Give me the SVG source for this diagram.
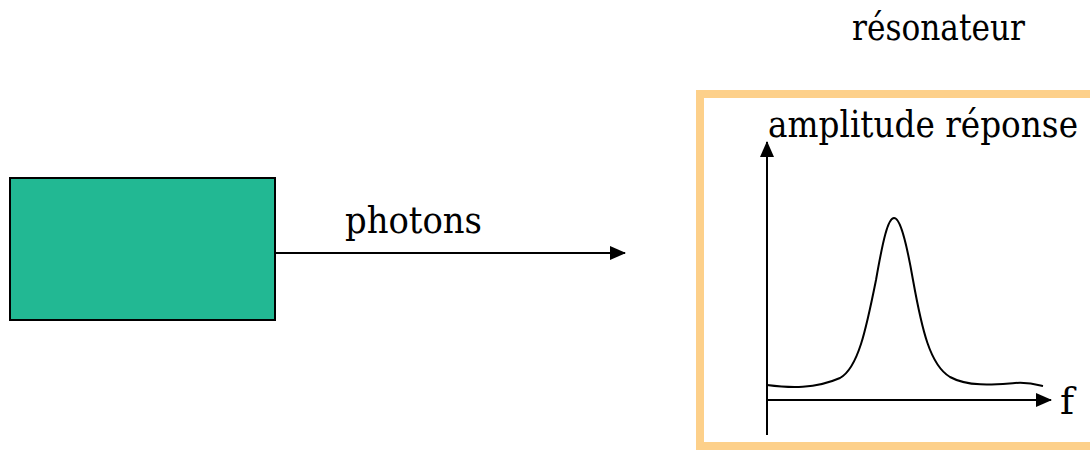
<svg xmlns="http://www.w3.org/2000/svg" width="1090" height="451" viewBox="0 0 1090 451">
<style>
.t{font-family:'DejaVu Serif',serif;font-size:38px;fill:#000}
.ln{stroke:#000;stroke-width:2;fill:none}
</style>
<defs>
<marker id="ah2" markerWidth="16" markerHeight="14" refX="15" refY="7" orient="auto" markerUnits="userSpaceOnUse" viewBox="0 0 16 14">
<path d="M0,0 L16,7 L0,14 Z" fill="#000"/>
</marker>
</defs>
<rect width="1090" height="451" fill="#fff"/>
<g id="source">
<rect x="10" y="178" width="265" height="142" fill="#22B893" stroke="#000" stroke-width="2"/>
</g>
<g id="resonateur">
<text class="t" x="852" y="40" textLength="173" lengthAdjust="spacingAndGlyphs">résonateur</text>
<rect x="700" y="94" width="420" height="352" fill="none" stroke="#FDD08A" stroke-width="8"/>
<text class="t" x="768" y="137" textLength="310" lengthAdjust="spacingAndGlyphs">amplitude réponse</text>
<text class="t" x="1060" y="414">f</text>
<path class="ln" d="M767,385 C790,388 815,389 840,378 C858,368 866,330 876,280 C883,240 888,218 894,218 C900,218 906,240 913,280 C922,330 930,365 950,377 C970,388 1000,384 1015,383 C1028,382 1035,384 1043,386"/>
</g>
<g id="connectors">
<line class="ln" x1="275" y1="253" x2="625" y2="253" marker-end="url(#ah2)"/>
<text class="t" x="345" y="233" textLength="137" lengthAdjust="spacingAndGlyphs">photons</text>
<line class="ln" x1="767" y1="435" x2="767" y2="142" marker-end="url(#ah2)"/>
<line class="ln" x1="767" y1="400" x2="1051" y2="400" marker-end="url(#ah2)"/>
</g>
</svg>
